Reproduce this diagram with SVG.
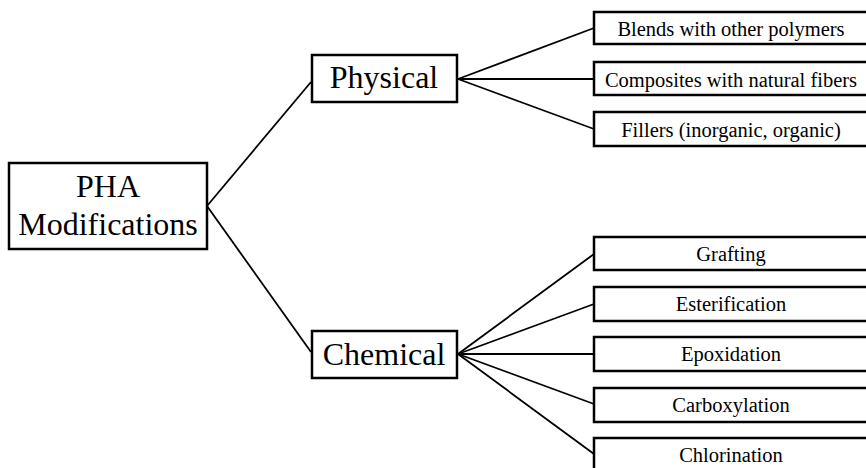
<svg xmlns="http://www.w3.org/2000/svg" width="866" height="468" viewBox="0 0 866 468">
<style>
rect{fill:#fff;stroke:#000;stroke-width:2.5}
text{font-family:"Liberation Serif","Times New Roman",serif;fill:#000;text-anchor:middle}
.big{font-size:32px}
.sm{font-size:20.5px}
#connectors line{stroke:#000;stroke-width:1.8}
</style>
<rect x="0" y="0" width="866" height="468" style="stroke:none"/>
<g id="connectors">
<line x1="207" y1="206" x2="311" y2="82"/>
<line x1="207" y1="206" x2="311" y2="352"/>
<line x1="458" y1="79" x2="594" y2="28"/>
<line x1="458" y1="79" x2="594" y2="79"/>
<line x1="458" y1="79" x2="594" y2="129"/>
<line x1="458" y1="354" x2="594" y2="254"/>
<line x1="458" y1="354" x2="594" y2="304"/>
<line x1="458" y1="354" x2="594" y2="354"/>
<line x1="458" y1="354" x2="594" y2="404"/>
<line x1="458" y1="354" x2="594" y2="454"/>
</g>
<g id="pha"><rect x="9" y="163" width="198" height="86"/><text class="big" x="108" y="197">PHA</text><text class="big" x="108" y="235">Modifications</text></g>
<g id="physical"><rect x="312" y="55" width="145" height="47"/><text class="big" x="384" y="88">Physical</text></g>
<g id="chemical"><rect x="312" y="331" width="145" height="47"/><text class="big" x="384" y="365">Chemical</text></g>
<g id="blends"><rect x="594" y="12" width="280" height="32"/><text class="sm" x="731" y="36">Blends with other polymers</text></g>
<g id="composites"><rect x="594" y="62" width="280" height="33"/><text class="sm" x="731" y="87">Composites with natural fibers</text></g>
<g id="fillers"><rect x="594" y="112" width="280" height="34"/><text class="sm" x="731" y="137">Fillers (inorganic, organic)</text></g>
<g id="grafting"><rect x="594" y="237" width="280" height="33"/><text class="sm" x="731" y="261">Grafting</text></g>
<g id="esterification"><rect x="594" y="287" width="280" height="34"/><text class="sm" x="731" y="311">Esterification</text></g>
<g id="epoxidation"><rect x="594" y="337" width="280" height="34"/><text class="sm" x="731" y="361">Epoxidation</text></g>
<g id="carboxylation"><rect x="594" y="388" width="280" height="34"/><text class="sm" x="731" y="412">Carboxylation</text></g>
<g id="chlorination"><rect x="594" y="438" width="280" height="40"/><text class="sm" x="731" y="462">Chlorination</text></g>
</svg>
